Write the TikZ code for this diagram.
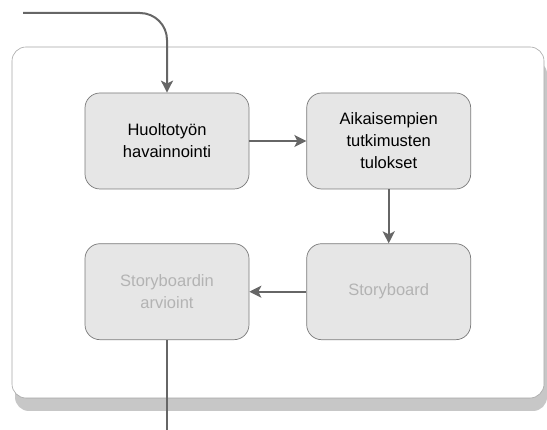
\documentclass[tikz,border=0pt]{standalone}
\usepackage{xcolor}
\usepackage{fontspec}
\setmainfont{Liberation Sans}
\usepackage{tikz}
\usetikzlibrary{arrows.meta, positioning, fit, backgrounds, shadows}

\definecolor{boxfill}{HTML}{E6E6E6}
\definecolor{boxline}{HTML}{7A7A7A}
\definecolor{arrowgray}{HTML}{666666}
\definecolor{fadedtext}{HTML}{B3B3B3}

\begin{document}
\begin{tikzpicture}[
    x=1pt, y=1pt,
    process/.style={rectangle, rounded corners=15pt, draw=boxline, line width=0.7pt, fill=boxfill, minimum width=164pt, minimum height=96pt, align=center, font=\fontsize{16.5}{22}\selectfont},
    pending/.style={process, text=fadedtext},
    frame/.style={rectangle, rounded corners=14pt, draw=gray!70, line width=0.6pt, fill=white, inner sep=0pt, drop shadow={shadow xshift=3pt, shadow yshift=-13pt, fill=black!22, opacity=1}},
    arrow/.style={-{Stealth[length=12pt, width=12pt, inset=3pt]}, line width=2pt, draw=arrowgray},
    link/.style={line width=2pt, draw=arrowgray},
    node distance=54pt and 57pt
]
\useasboundingbox (0,0) rectangle (547,-430);

% Main flow
\node[process] (observe) at (167,-141) {Huoltotyön\\havainnointi};
\node[process, right=of observe] (prior) {Aikaisempien\\tutkimusten\\tulokset};
\node[pending, below=of prior] (story) {Storyboard};
\node[pending, left=of story] (review) {Storyboardin\\arvioint};

% Frame
\coordinate (ftl) at (12,-47);
\coordinate (fbr) at (544,-398);
\begin{scope}[on background layer]
\node[frame, fit=(ftl)(fbr)] (frame) {};
\end{scope}

% Ends
\coordinate (in) at (23,-13);
\coordinate (out) at (167,-430);

% Arrows
\draw[arrow, rounded corners=27pt] (in) -| (observe.north);
\draw[arrow] (observe) -- (prior);
\draw[arrow] (prior) -- (story);
\draw[arrow] (story) -- (review);
\draw[link] (review) -- (out);

\end{tikzpicture}
\end{document}
